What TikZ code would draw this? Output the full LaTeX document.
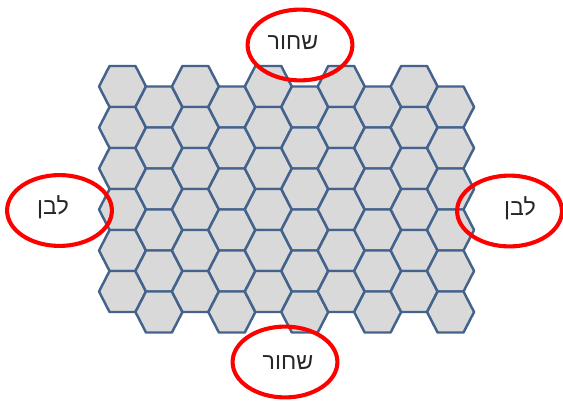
\documentclass[tikz,border=0pt]{standalone}
\usepackage{fontspec}
\setmainfont{Liberation Sans}
\newfontfamily\hebfont[Script=Hebrew]{Liberation Sans}
\TeXXeTstate=1
\usepackage{tikz}
\usetikzlibrary{shapes.geometric}
\definecolor{HexLine}{RGB}{67, 98, 140}
\definecolor{HexFill}{RGB}{217,217,217}
\definecolor{RingRed}{RGB}{255, 0,  0}
\definecolor{TextDark}{RGB}{38, 38, 38}

\begin{document}
\begin{tikzpicture}[
  x=0.025cm, y=-0.025cm,
  hexcell/.style={
    draw=HexLine, fill=HexFill,
    line width=1.75pt, line join=round},
  ring/.style={
    draw=RingRed, ellipse,
    line width=2.9pt, inner sep=0pt,
    minimum width=2.62cm, minimum height=1.77cm},
  side/.style={
    font=\hebfont\fontsize{16.5}{18}\selectfont,
    text=TextDark, inner sep=0pt}
]
\useasboundingbox (0,0) rectangle (563,401);

% board of hexagons, odd columns shifted down
\foreach \col in {0,...,9} {
  \foreach \row in {0,...,5} {
    \pgfmathsetmacro{\cx}{122.5+36.45*\col}
    \pgfmathsetmacro{\cy}{86.5+41*\row+20.5*mod(\col,2)}
    \draw[hexcell] ({\cx-23.5},\cy) -- ({\cx-12.95},{\cy-20.5})
      -- ({\cx+12.95},{\cy-20.5}) -- ({\cx+23.5},\cy)
      -- ({\cx+12.95},{\cy+20.5}) -- ({\cx-12.95},{\cy+20.5}) -- cycle;
  }
}

% sides of the board
\node[ring] (topRing) at (300,45) {};
\node[ring] (leftRing) at (59.5,210.5) {};
\node[ring] (rightRing) at (509.5,211) {};
\node[ring] (bottomRing) at (285,362) {};

\node[side] (topText) at (293,43) {\beginR שחור\endR};
\node[side] (leftText) at (53,207) {\beginR לבן\endR};
\node[side] (rightText) at (520,208) {\beginR לבן\endR};
\node[side] (bottomText) at (288,363) {\beginR שחור\endR};
\end{tikzpicture}
\end{document}
